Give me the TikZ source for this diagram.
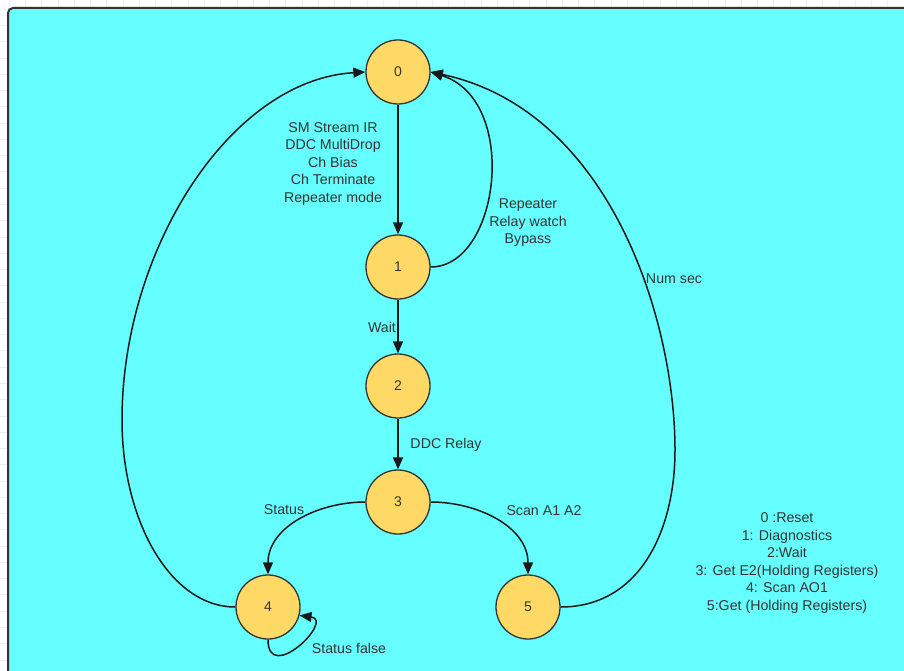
\documentclass[tikz,border=0pt]{standalone}
\usepackage{fontspec}
\setmainfont{Liberation Sans}
\usetikzlibrary{arrows.meta}
\definecolor{panel}{HTML}{66FFFF}
\definecolor{statefill}{HTML}{FFD966}
\definecolor{ink}{HTML}{333333}
\definecolor{gridline}{HTML}{EEEEEE}
\begin{document}
\begin{tikzpicture}[x=1pt,y=-1pt,
  state/.style={circle,draw=ink,line width=1.3pt,fill=statefill,minimum size=64pt,
    inner sep=0pt,font=\fontsize{14}{17}\selectfont,text=ink},
  edge/.style={draw=black!90,line width=1.5pt,-{Triangle[length=12pt,width=10pt]}},
  lbl/.style={font=\fontsize{14.2}{17.5}\selectfont,text=ink,align=center,inner sep=0pt}]
\useasboundingbox (0,0) rectangle (904,671);

% faint page grid behind the panel
\foreach \i in {0,...,55} \draw[gridline,line width=0.5pt] ({9+16.27*\i},0) -- ({9+16.27*\i},671);
\foreach \i in {0,...,41} \draw[gridline,line width=0.5pt] (0,{9+16.27*\i}) -- (904,{9+16.27*\i});

% panel
\draw[draw=ink,line width=2pt,fill=panel,rounded corners=5pt] (8,8) rectangle (930,700);

% states
\node[state] (n0) at (398,72) {0};
\node[state] (n1) at (398,267) {1};
\node[state] (n2) at (398,386) {2};
\node[state] (n3) at (398,502) {3};
\node[state] (n4) at (268,607) {4};
\node[state] (n5) at (528,607) {5};

\coordinate (numsecbend) at (675,450);
\coordinate (leftbend) at (122,420);

% transitions
\draw[edge] (n0) -- (n1);
\draw[edge] (n1) -- (n2);
\draw[edge] (n2) -- (n3);
\draw[edge] (n1.east) .. controls (500,267) and (520,100) .. (n0.east);
\draw[edge] (n3.west) to[out=180,in=90] (n4.north);
\draw[edge] (n3.east) to[out=0,in=90] (n5.north);
\draw[edge] (n5.east) .. controls (640,607) and (675,530) .. (numsecbend)
  .. controls (675,320) and (610,110) .. (n0.east);
\draw[edge] (n4.west) .. controls (170,607) and (122,520) .. (leftbend)
  .. controls (122,250) and (230,80) .. (n0.west);
\draw[edge] (n4.south) .. controls (268,685) and (335,620) .. (n4.-15);

% transition labels
\node[lbl] (l01) at (333,164) {SM Stream IR\\DDC MultiDrop\\Ch Bias\\Ch Terminate\\Repeater mode};
\node[lbl] (l10) at (528,223) {Repeater\\Relay watch\\Bypass};
\node[lbl] (l12) at (382,327) {Wait};
\node[lbl] (l23) at (446,445) {DDC Relay};
\node[lbl] (l34) at (284,510) {Status};
\node[lbl] (l35) at (544,511) {Scan A1 A2};
\node[lbl] (l44) at (349,648) {Status false};
\node[lbl] (l50) at (674,279) {Num sec};

% legend
\node[lbl] (legend) at (787,563) {0 :Reset\\1: Diagnostics\\2:Wait\\3: Get E2(Holding Registers)\\4: Scan AO1\\5:Get (Holding Registers)};
\end{tikzpicture}
\end{document}
